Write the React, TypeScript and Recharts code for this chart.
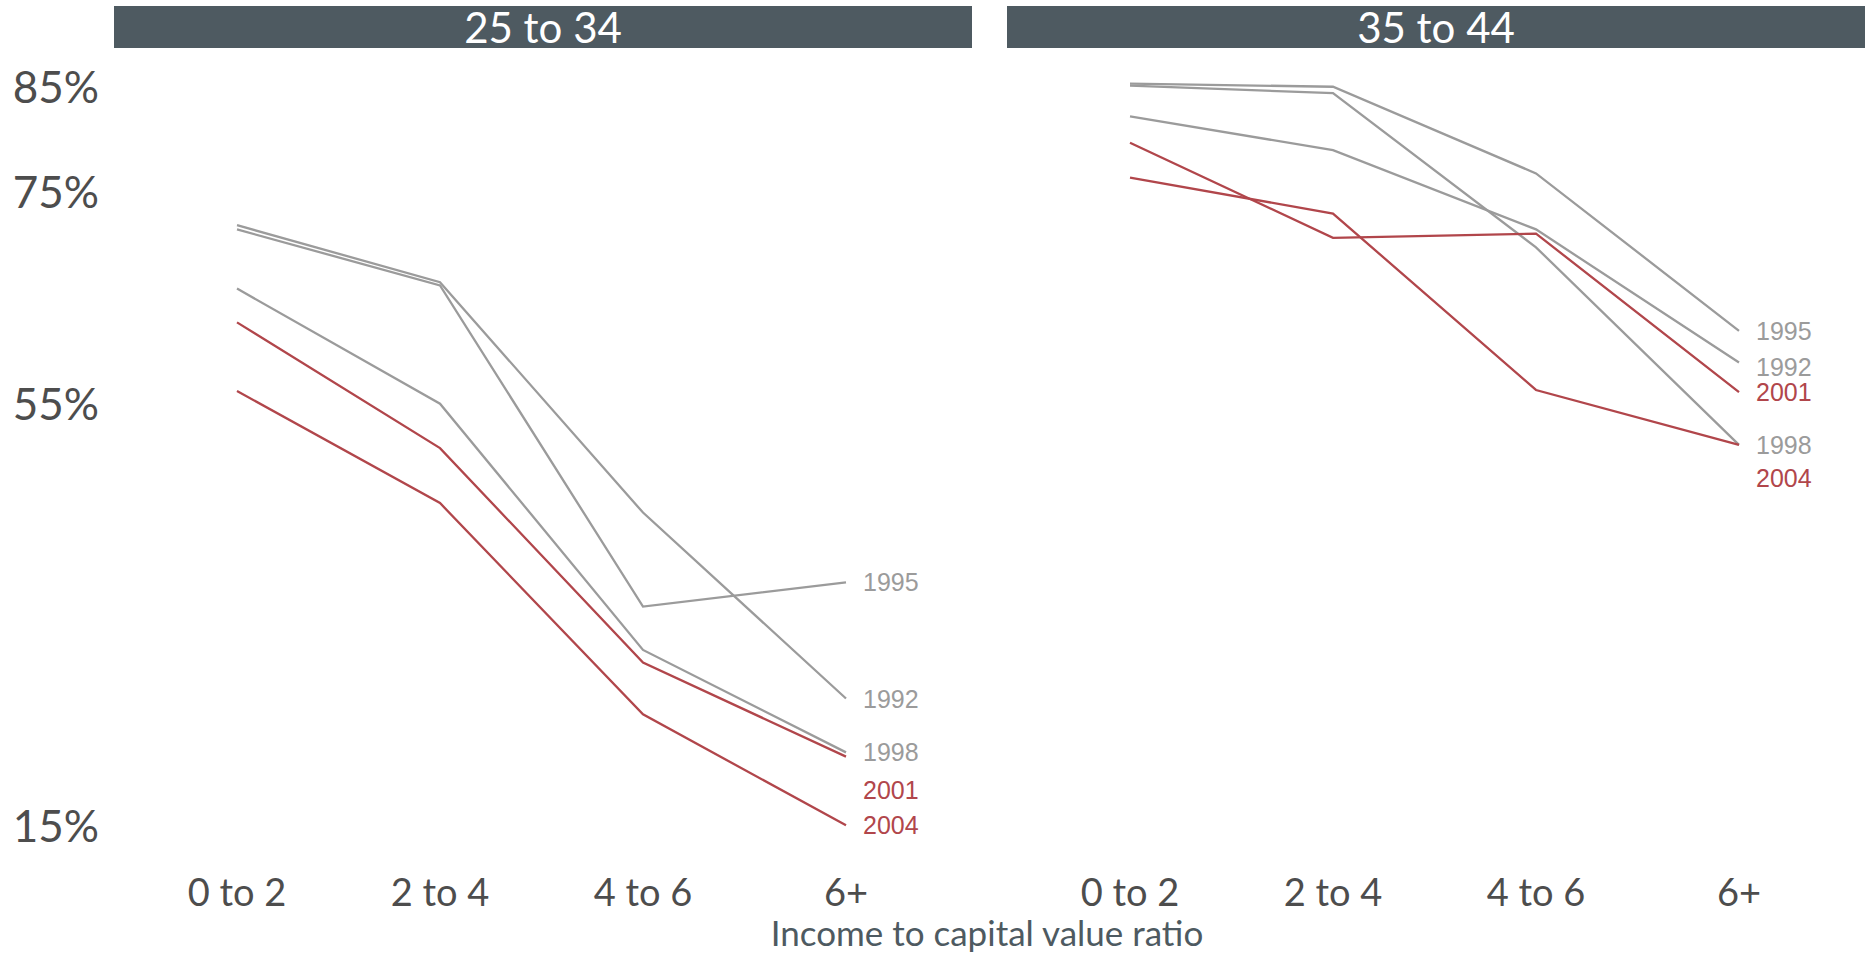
import { Line, LineChart, XAxis, YAxis } from 'recharts';

const categories = ['0 to 2', '2 to 4', '4 to 6', '6+'];
const years = ['1992', '1995', '1998', '2001', '2004'];
const yTicks = [15, 55, 75, 85];

// 25 to 34
const young1992 = [71.8, 66.4, 44.6, 27.0];
const young1995 = [71.4, 66.1, 35.7, 38.0];
const young1998 = [65.8, 54.9, 31.6, 21.9];
const young2001 = [62.6, 50.7, 30.4, 21.5];
const young2004 = [56.1, 45.5, 25.5, 15.0];

// 35 to 44
const older1992 = [82.1, 78.9, 71.4, 58.8];
const older1995 = [85.2, 84.9, 76.7, 61.8];
const older1998 = [85.0, 84.3, 69.7, 51.0];
const older2001 = [79.6, 70.6, 71.0, 56.0];
const older2004 = [76.3, 72.9, 56.2, 51.0];

const GRAY = '#9b9b9b';
const RED = '#b1464b';
const SLATE = '#4e5a61';
const TEXT = '#4d4d4d';
const yearColor: Record<string, string> = {
  '1992': GRAY,
  '1995': GRAY,
  '1998': GRAY,
  '2001': RED,
  '2004': RED,
};

const CHART_H = 955;
const PLOT_W = 858;

function buildRows(series: Record<string, number[]>) {
  return categories.map((cat, i) => {
    const row: Record<string, string | number> = { cat };
    years.forEach((yr) => {
      row[yr] = series[yr][i];
    });
    return row;
  });
}

const panels = [
  {
    title: '25 to 34',
    left: 0,
    axisWidth: 114,
    rows: buildRows({
      '1992': young1992,
      '1995': young1995,
      '1998': young1998,
      '2001': young2001,
      '2004': young2004,
    }),
    // nudge end labels apart where they would collide
    labelShift: { '2001': 33 } as Record<string, number>,
  },
  {
    title: '35 to 44',
    left: 1007,
    axisWidth: 0,
    rows: buildRows({
      '1992': older1992,
      '1995': older1995,
      '1998': older1998,
      '2001': older2001,
      '2004': older2004,
    }),
    labelShift: { '1992': 4, '2004': 33 } as Record<string, number>,
  },
];

function XTick({ x, y, payload }: any) {
  return (
    <text
      x={x}
      y={y + 34}
      textAnchor="middle"
      dominantBaseline="central"
      fill={TEXT}
      style={{ fontFamily: 'Lato', fontSize: 38 }}
    >
      {payload.value}
    </text>
  );
}

function YTick({ x, y, payload }: any) {
  return (
    <text
      x={x}
      y={y}
      textAnchor="end"
      dominantBaseline="central"
      fill={TEXT}
      style={{ fontFamily: 'Lato', fontSize: 44 }}
    >
      {`${payload.value}%`}
    </text>
  );
}

function endLabel(year: string, shift: number) {
  return (props: any) => {
    const { cx, cy, index } = props;
    if (index !== categories.length - 1) {
      return <g key={`d-${year}-${index}`} />;
    }
    return (
      <text
        key={`d-${year}-${index}`}
        x={cx + 17}
        y={cy + shift}
        dominantBaseline="central"
        fill={yearColor[year]}
        style={{ fontFamily: 'Liberation Sans, Arial, sans-serif', fontSize: 25 }}
      >
        {year}
      </text>
    );
  };
}

function Panel({ panel }: { panel: (typeof panels)[number] }) {
  const width = panel.axisWidth + PLOT_W;
  return (
    <div style={{ position: 'absolute', left: panel.left, top: 0 }}>
      <LineChart
        width={width}
        height={CHART_H}
        data={panel.rows}
        margin={{ top: 54, right: 0, bottom: 0, left: 0 }}
      >
        <XAxis
          dataKey="cat"
          height={98}
          padding={{ left: 123, right: 126 }}
          axisLine={false}
          tickLine={false}
          tickSize={0}
          tickMargin={0}
          tick={<XTick />}
          interval={0}
        />
        <YAxis
          type="number"
          domain={[12, 88]}
          ticks={yTicks}
          width={panel.axisWidth}
          hide={panel.axisWidth === 0}
          axisLine={false}
          tickLine={false}
          tickSize={0}
          tickMargin={15}
          tick={<YTick />}
          interval={0}
        />
        {years.map((yr) => (
          <Line
            key={yr}
            dataKey={yr}
            type="linear"
            stroke={yearColor[yr]}
            strokeWidth={2.3}
            dot={endLabel(yr, panel.labelShift[yr] ?? 0)}
            activeDot={false}
            isAnimationActive={false}
          />
        ))}
      </LineChart>
      <div
        style={{
          position: 'absolute',
          left: panel.axisWidth,
          top: 6,
          width: PLOT_W,
          height: 42,
          background: SLATE,
          color: '#ffffff',
          fontFamily: 'Lato',
          fontSize: 42,
          lineHeight: '42px',
          textAlign: 'center',
        }}
      >
        {panel.title}
      </div>
    </div>
  );
}

export default function App() {
  return (
    <div
      style={{
        position: 'absolute',
        left: 0,
        top: 0,
        width: 1869,
        height: 955,
        background: '#ffffff',
        overflow: 'hidden',
      }}
    >
      {panels.map((p) => (
        <Panel key={p.title} panel={p} />
      ))}
      <div
        style={{
          position: 'absolute',
          left: 0,
          top: 912,
          width: 1974,
          textAlign: 'center',
          fontFamily: 'Lato',
          fontSize: 35,
          lineHeight: '40px',
          color: SLATE,
        }}
      >
        Income to capital value ratio
      </div>
    </div>
  );
}
